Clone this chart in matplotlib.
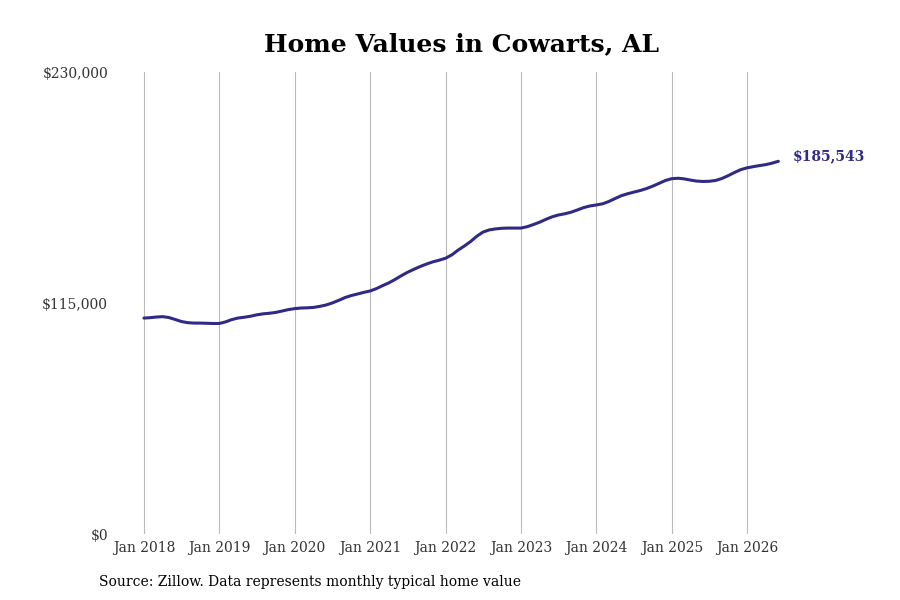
import matplotlib
matplotlib.use("Agg")
import matplotlib.pyplot as plt
import matplotlib.dates as mdates
import matplotlib.transforms as mtransforms
import pandas as pd

plt.rcParams['font.family'] = ['DejaVu Serif', 'DejaVu Sans']

start_month = "2018-01-01"
values = [
    107.5, 107.7, 108.0, 108.2, 107.8, 106.8, 105.8, 105.2, 105.0, 105.0, 104.9, 104.8,
    104.8, 105.6, 106.7, 107.5, 107.9, 108.4, 109.1, 109.6, 109.9, 110.3, 111.0, 111.7,
    112.2, 112.5, 112.6, 112.8, 113.3, 114.0, 115.0, 116.3, 117.7, 118.7, 119.5, 120.3,
    121.0, 122.2, 123.6, 125.0, 126.7, 128.6, 130.3, 131.8, 133.2, 134.4, 135.5, 136.3,
    137.3, 139.0, 141.2, 143.3, 145.5, 148.2, 150.3, 151.4, 151.9, 152.2, 152.3, 152.3,
    152.3, 153.0, 154.0, 155.2, 156.6, 157.9, 158.8, 159.4, 160.2, 161.3, 162.5, 163.3,
    163.8, 164.4, 165.5, 167.0, 168.4, 169.4, 170.2, 171.0, 172.0, 173.2, 174.6, 176.0,
    176.9, 177.1, 176.8, 176.2, 175.7, 175.5, 175.6, 176.0, 177.0, 178.4, 180.0, 181.4,
    182.3, 182.9, 183.4, 183.9, 184.6, 185.543,
]
values = [v * 1000 for v in values]
dates = pd.date_range(start_month, periods=len(values), freq="MS")

tick_years = [2018, 2019, 2020, 2021, 2022, 2023, 2024, 2025, 2026]
tick_labels = [f"Jan {y}" for y in tick_years]
y_ticks = [0, 115000, 230000]
y_labels = ["$0", "$115,000", "$230,000"]
title = "Home Values in Cowarts, AL"
source = "Source: Zillow. Data represents monthly typical home value"
last_label = "$185,543"

line_color = "#2e2a86"

fig = plt.figure(figsize=(9, 6), dpi=100)
ax = fig.add_axes([0.1278, 0.11, 0.8389, 0.77])
ax.plot(dates, values, color=line_color, lw=2.2, solid_capstyle='round')

x0 = mdates.date2num(pd.Timestamp("2018-01-01"))
ax.set_xlim(x0 - 140, x0 + 3517)
ax.set_ylim(0, 230000)

ticks = [pd.Timestamp(f"{y}-01-01") for y in tick_years]
ax.set_xticks(ticks)
ax.set_xticklabels(tick_labels, fontsize=10, color="#333333")
ax.set_yticks(y_ticks)
ax.set_yticklabels(y_labels, fontsize=10, color="#333333")
ax.tick_params(axis='both', length=0)
ax.tick_params(axis='x', pad=5)
ax.tick_params(axis='y', pad=5)
offset = mtransforms.ScaledTranslation(0, -2 / 100, fig.dpi_scale_trans)
for lab in ax.get_yticklabels():
    lab.set_verticalalignment('center')
    lab.set_transform(lab.get_transform() + offset)

ax.grid(axis='x', color='#bbbbbb', lw=0.8)
ax.grid(axis='y', visible=False)
for s in ax.spines.values():
    s.set_visible(False)

ax.annotate(last_label, xy=(dates[-1], values[-1]), xytext=(10, 4),
            textcoords='offset points', ha='left', va='center',
            fontsize=10, fontweight='bold', color=line_color)

fig.text(0.513, 0.926, title, ha='center', va='center', fontsize=18, fontweight='bold')
fig.text(0.11, 0.03, source, ha='left', va='center', fontsize=10, color='black')

fig.savefig("out.png", dpi=100)
